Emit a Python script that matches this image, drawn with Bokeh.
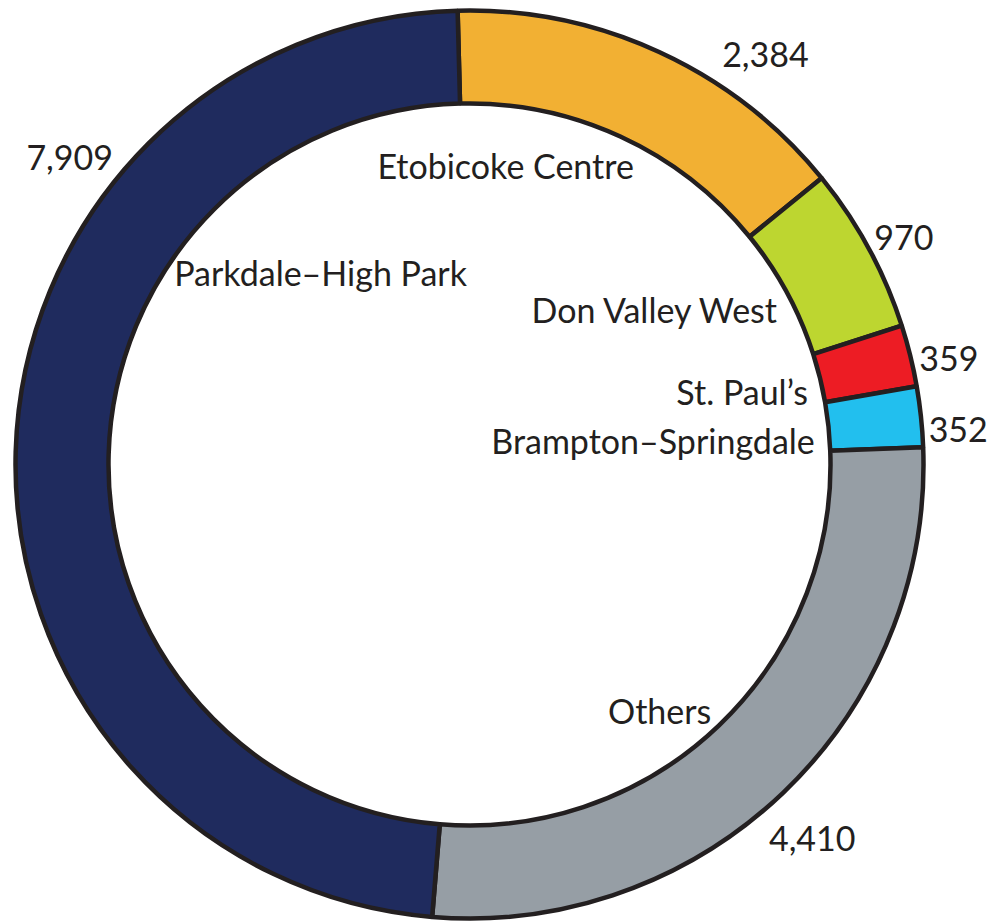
import math
from bokeh.plotting import figure
from bokeh.models import Range1d, ColumnDataSource
from bokeh.core.properties import value
from bokeh.embed import file_html
from bokeh.resources import INLINE

# ---- data ----
categories = ["Etobicoke Centre", "Don Valley West", "St. Paul\u2019s",
              "Brampton\u2013Springdale", "Others", "Parkdale\u2013High Park"]
counts = [2384, 970, 359, 352, 4410, 7909]
value_labels = ["2,384", "970", "359", "352", "4,410", "7,909"]
colors = ["#F2B033", "#BDD630", "#ED1C24", "#22BFEE", "#969EA5", "#1F2B5E"]

# ---- layout ----
W, H = 992, 921
CX, CY = 469, 457
R_OUT, R_IN = 454, 361
START_DEG = 91.5
FONT = "Lato"
FSIZE = "34px"
INK = "#231F20"

total = sum(counts)
starts, ends, mids = [], [], []
a = START_DEG
for c in counts:
    span = 360.0 * c / total
    starts.append(math.radians(a))
    ends.append(math.radians(a - span))
    mids.append(a - span / 2)
    a -= span

p = figure(width=W, height=H, x_range=Range1d(0, W), y_range=Range1d(0, H),
           output_backend="svg", toolbar_location=None, min_border=0)
p.axis.visible = False
p.grid.visible = False
p.outline_line_color = None
p.background_fill_color = "white"

src = ColumnDataSource(dict(start=starts, end=ends, color=colors))
p.annular_wedge(x=CX, y=CY, inner_radius=R_IN, outer_radius=R_OUT,
                start_angle="start", end_angle="end", direction="clock",
                fill_color="color", line_color=INK, line_width=4.5, source=src)

# value labels outside the ring (mid-angle + small shift)
val_angle_shift = [-11.1, -0.9, -1.4, -1.9, -1.2, -35.9]
val_r_offset = [52, 36, 37, 36, 53, 50]
vx, vy = [], []
for i in range(len(counts)):
    ang = math.radians(mids[i] + val_angle_shift[i])
    r = R_OUT + val_r_offset[i]
    vx.append(CX + r * math.cos(ang))
    vy.append(CY + r * math.sin(ang))
p.text(x=vx, y=vy, text=value_labels, text_align="center", text_baseline="middle",
       text_font=value(FONT), text_font_size=FSIZE, text_color=INK)

# category labels inside the ring, right-aligned near the inner edge
right_idx = [1, 2, 3, 4]
right_shift = [-2.1, -1.8, -2.3, 0.6]
rx, ry, rt = [], [], []
for i, s in zip(right_idx, right_shift):
    ang = math.radians(mids[i] + s)
    r = R_IN - 15
    rx.append(CX + r * math.cos(ang))
    ry.append(CY + r * math.sin(ang) + 1)
    rt.append(categories[i])
p.text(x=rx, y=ry, text=rt, text_align="right", text_baseline="middle",
       text_font=value(FONT), text_font_size=FSIZE, text_color=INK)

# two hand-placed centred category labels (polar: angle deg, radius)
centre_pos = {0: (83.1, 301), 5: (127.8, 243)}
cx_, cy_, ct = [], [], []
for i, (ang_d, r) in centre_pos.items():
    ang = math.radians(ang_d)
    cx_.append(CX + r * math.cos(ang))
    cy_.append(CY + r * math.sin(ang))
    ct.append(categories[i])
p.text(x=cx_, y=cy_, text=ct, text_align="center", text_baseline="middle",
       text_font=value(FONT), text_font_size=FSIZE, text_color=INK)

open("out.html", "w").write(file_html(p, INLINE))
